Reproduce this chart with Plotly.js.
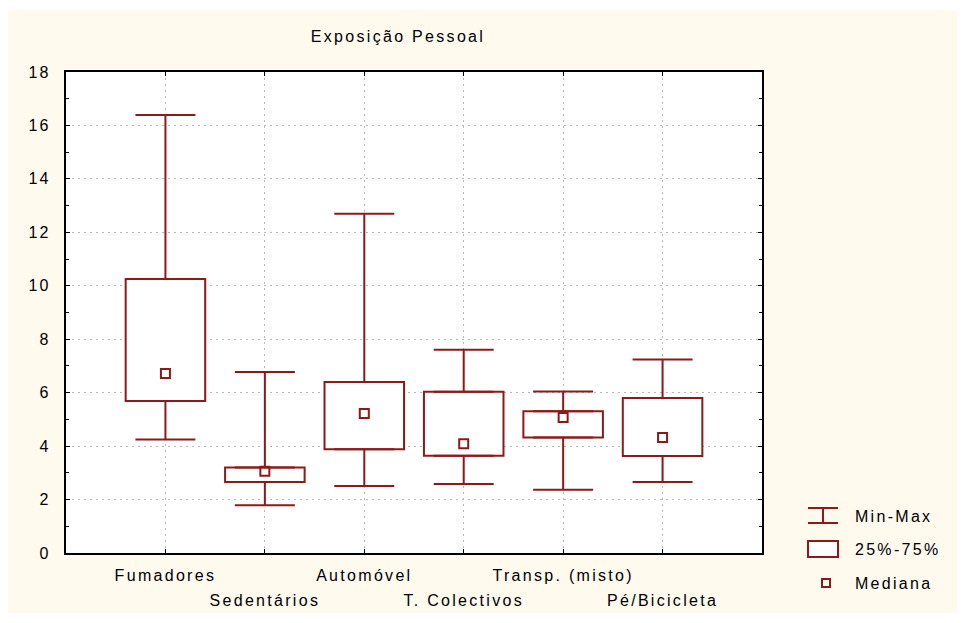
<!DOCTYPE html>
<html>
<head>
<meta charset="utf-8">
<script src="https://cdn.plot.ly/plotly-3.0.1.min.js"></script>
<style>
  html, body { margin: 0; padding: 0; background: #ffffff; }
  #chart { width: 965px; height: 623px; }
  .main-svg text { letter-spacing: 2.3px; }
</style>
</head>
<body>
<div id="chart"></div>
<script>
// ---- data ----
const categories = ["Fumadores", "Sedentários", "Automóvel", "T. Colectivos", "Transp. (misto)", "Pé/Bicicleta"];
const minValues    = [4.25, 1.79, 2.51, 2.58, 2.37, 2.66];
const q1Values     = [5.69, 2.66, 3.88, 3.64, 4.32, 3.63];
const medianValues = [6.72, 3.06, 5.22, 4.09, 5.07, 4.32];
const q3Values     = [10.25, 3.20, 6.40, 6.03, 5.30, 5.80];
const maxValues    = [16.39, 6.77, 12.70, 7.61, 6.04, 7.24];
const yTickValues  = [0, 2, 4, 6, 8, 10, 12, 14, 16, 18];
const legendLabels = ["Min-Max", "25%-75%", "Mediana"];
const titleText = "Exposição Pessoal";

// ---- style ----
const RED = "#8c1a1a";
const FONT = "Liberation Sans, Arial, sans-serif";
const W = 965, Hh = 623;
const M = {l: 66, r: 203, t: 72, b: 70};
const PW = W - M.l - M.r, PH = Hh - M.t - M.b;
const X = px => (px - M.l) / PW;
const Y = py => (Hh - M.b - py) / PH;

const evenCats = categories.filter((c, i) => i % 2 === 1);

const boxTrace = {
  type: "bar", x: categories,
  base: q1Values,
  y: q3Values.map((v, i) => v - q1Values[i]),
  width: 0.8,
  marker: {color: "#ffffff", line: {color: RED, width: 2}},
  hoverinfo: "skip", showlegend: false
};
const upperWhisker = {
  type: "scatter", mode: "markers", x: categories, y: q3Values,
  marker: {size: 1, opacity: 0},
  error_y: {type: "data", symmetric: false,
    array: maxValues.map((v, i) => v - q3Values[i]),
    arrayminus: q3Values.map(() => 0),
    color: RED, thickness: 2, width: 30},
  hoverinfo: "skip", showlegend: false
};
const lowerWhisker = {
  type: "scatter", mode: "markers", x: categories, y: q1Values,
  marker: {size: 1, opacity: 0},
  error_y: {type: "data", symmetric: false,
    array: q1Values.map(() => 0),
    arrayminus: q1Values.map((v, i) => v - minValues[i]),
    color: RED, thickness: 2, width: 30},
  hoverinfo: "skip", showlegend: false
};
const medianTrace = {
  type: "scatter", mode: "markers", x: categories, y: medianValues,
  xaxis: "x2",
  marker: {symbol: "square-open", size: 9, color: RED, line: {width: 2, color: RED}},
  hoverinfo: "skip", showlegend: false
};

const commonX = {
  type: "category", categoryarray: categories, categoryorder: "array",
  range: [-1, 6], fixedrange: true
};

const shapes = [
  {type: "rect", xref: "paper", yref: "paper", x0: X(8), x1: X(957), y0: Y(613), y1: Y(10),
   fillcolor: "#fff9ee", line: {width: 0}, layer: "below"},
  {type: "rect", xref: "paper", yref: "paper", x0: 0, x1: 1, y0: 0, y1: 1,
   fillcolor: "#ffffff", line: {width: 0}, layer: "below"},
  {type: "line", xref: "paper", yref: "paper", x0: X(808), x1: X(838), y0: Y(508), y1: Y(508), line: {color: RED, width: 2}},
  {type: "line", xref: "paper", yref: "paper", x0: X(808), x1: X(838), y0: Y(523), y1: Y(523), line: {color: RED, width: 2}},
  {type: "line", xref: "paper", yref: "paper", x0: X(823), x1: X(823), y0: Y(508), y1: Y(523), line: {color: RED, width: 2}},
  {type: "rect", xref: "paper", yref: "paper", x0: X(808), x1: X(838), y0: Y(557), y1: Y(541),
   fillcolor: "#ffffff", line: {color: RED, width: 2}},
  {type: "rect", xref: "paper", yref: "paper", x0: X(822), x1: X(830), y0: Y(587), y1: Y(579),
   fillcolor: "rgba(0,0,0,0)", line: {color: RED, width: 2}}
];

const legendY = [516, 549, 583];
const annotations = legendLabels.map((t, i) => ({
  text: t, xref: "paper", yref: "paper", x: X(862), y: Y(legendY[i]),
  xanchor: "left", yanchor: "middle", showarrow: false, borderpad: 0,
  font: {family: FONT, size: 16, color: "#000"}
}));

const layout = {
  width: W, height: Hh,
  margin: M,
  paper_bgcolor: "#ffffff", plot_bgcolor: "rgba(0,0,0,0)",
  showlegend: false, barmode: "overlay",
  font: {family: FONT, size: 16, color: "#000"},
  title: {text: titleText, xref: "container", x: 398 / W, xanchor: "center",
          yref: "container", y: 1 - 36 / Hh, yanchor: "middle",
          font: {family: FONT, size: 16, color: "#000"}},
  xaxis: Object.assign({}, commonX, {
    tickmode: "array", tickvals: categories,
    ticktext: categories.map((c, i) => i % 2 === 0 ? c : ""),
    ticks: "inside", ticklen: 4, tickwidth: 1, tickcolor: "#000",
    showline: true, linecolor: "#000", linewidth: 2, mirror: "ticks",
    showgrid: true, gridcolor: "#b8b8b8", griddash: "2px,4px", gridwidth: 1,
    zeroline: false, ticklabelstandoff: 7
  }),
  xaxis2: Object.assign({}, commonX, {
    overlaying: "x", anchor: "y", side: "bottom",
    tickmode: "array", tickvals: evenCats, ticktext: evenCats,
    ticks: "", showline: false, showgrid: false, zeroline: false,
    ticklabelstandoff: 36
  }),
  yaxis: {
    range: [0, 18], fixedrange: true,
    tickmode: "array", tickvals: yTickValues,
    ticks: "inside", ticklen: 4, tickwidth: 1, tickcolor: "#000",
    minor: {dtick: 1, tick0: 0, ticks: "inside", ticklen: 3, tickcolor: "#000", showgrid: false},
    showline: true, linecolor: "#000", linewidth: 2, mirror: "ticks",
    showgrid: true, gridcolor: "#b8b8b8", griddash: "2px,4px", gridwidth: 1,
    zeroline: false, ticklabelstandoff: 10
  },
  shapes: shapes,
  annotations: annotations
};

Plotly.newPlot("chart", [boxTrace, upperWhisker, lowerWhisker, medianTrace], layout,
  {staticPlot: true, displayModeBar: false});
</script>
</body>
</html>
